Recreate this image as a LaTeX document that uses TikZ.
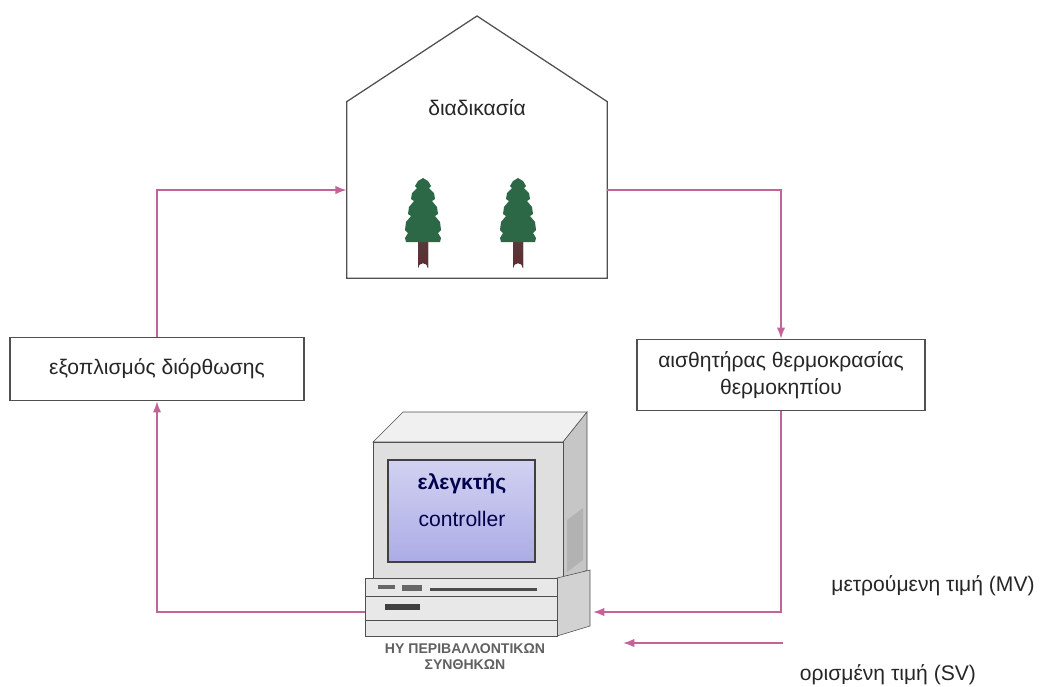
\documentclass[tikz,border=0pt]{standalone}
\usepackage{fontspec}
\setmainfont{Liberation Sans}
\usetikzlibrary{positioning,arrows.meta}

\definecolor{flowpink}{RGB}{196,100,150}
\definecolor{edgegray}{RGB}{80,80,80}
\definecolor{firgreen}{RGB}{44,104,70}
\definecolor{trunkred}{RGB}{100,42,52}
\definecolor{screenblue}{RGB}{172,172,230}

\tikzset{
  box/.style={draw=edgegray, line width=1pt, text=black!85, font=\fontsize{15}{19}\selectfont},
  flow/.style={flowpink, line width=1.3pt, -{Latex[length=8pt,width=6pt]}},
  lbl/.style={text=black!85, font=\fontsize{15}{18}\selectfont},
  fir/.pic={
    \fill[top color=trunkred!70!firgreen, bottom color=trunkred]
      (-5,60) -- (-5,90) arc (180:360:5) -- (5,60) -- cycle;
    \fill[firgreen] (0,0) -- (5,3) -- (8,8) -- (6,10) -- (11,15) -- (12,21) -- (9,23)
      -- (14,29) -- (15,36) -- (12,38) -- (17,44) -- (18,52) -- (15,55) -- (18,60) -- (17,64)
      -- (-17,64) -- (-18,60) -- (-15,55) -- (-18,52) -- (-17,44) -- (-12,38) -- (-15,36)
      -- (-14,29) -- (-9,23) -- (-12,21) -- (-11,15) -- (-6,10) -- (-8,8) -- (-5,3) -- cycle;
  }
}

\begin{document}
\begin{tikzpicture}[x=0.025cm, y=-0.025cm]
\useasboundingbox (0,0) rectangle (1040,686);

% the greenhouse
\node[minimum width=6.5cm, minimum height=4.4cm] (process) at (477,190) {};
\coordinate (roof) at (477,16);
\draw[edgegray, line width=0.9pt] (process.north west) -- (roof) -- (process.north east)
  -- (process.south east) -- (process.south west) -- cycle;
\node[lbl] (proclbl) at (477,108) {διαδικασία};
\pic at (423,178) {fir};
\pic at (518,178) {fir};

% boxes
\node[box, minimum width=7.35cm, minimum height=1.575cm] (equip) at (157,369) {εξοπλισμός διόρθωσης};
\node[box, minimum width=7.2cm, minimum height=1.775cm, align=center] (sensor) at (781,375)
  {αισθητήρας θερμοκρασίας\\θερμοκηπίου};

% the computer: monitor
\draw[edgegray, fill=gray!12] (373,442) -- (403,412) -- (587,412) -- (563,442) -- cycle;
\draw[edgegray, fill=gray!45] (563,442) -- (587,412) -- (587,570) -- (563,585) -- cycle;
\draw[edgegray, fill=gray!25] (373,442) rectangle (563,585);
\draw[black!75, line width=2pt, top color=screenblue!55!white, bottom color=screenblue]
  (388,460) rectangle (535,562);
\node[text=black!70!blue, font=\fontsize{15}{17}\selectfont\bfseries] (screen1) at (462,484) {ελεγκτής};
\node[text=black!70!blue, font=\fontsize{15}{17}\selectfont] (screen2) at (462,519) {controller};
\fill[gray!60] (567,520) -- (583,508) -- (583,560) -- (567,572) -- cycle;

% the computer: base unit
\draw[edgegray, fill=gray!35] (557,578) -- (590,570) -- (590,626) -- (557,636) -- cycle;
\draw[edgegray, fill=gray!18] (365,578) rectangle (557,636);
\draw[edgegray] (365,596) -- (557,596);
\draw[edgegray] (365,620) -- (557,620);
\fill[black!70] (430,588) rectangle (537,591);
\fill[black!60] (378,585) rectangle (395,589);
\fill[black!60] (402,585) rectangle (422,591);
\fill[black!75] (385,604) rectangle (420,610);
\coordinate (pcout) at (365,612);
\coordinate (pcin) at (593,612);
\node[text=gray!75!black, font=\fontsize{10}{11.5}\selectfont\bfseries, align=center] (pclbl) at (465,657)
  {ΗΥ ΠΕΡΙΒΑΛΛΟΝΤΙΚΩΝ\\ΣΥΝΘΗΚΩΝ};

% loop connectors
\draw[flow] (equip.north) |- (process.west);
\draw[flow] (process.east) -| (sensor.north);
\draw[flow] (sensor.south) |- (pcin);
\draw[flow] (pcout) -| (equip.south);

% set value
\coordinate (svfrom) at (783,643);
\coordinate (svto) at (623,643);
\draw[flow] (svfrom) -- (svto);
\node[lbl] (mv) at (933,586) {μετρούμενη τιμή (MV)};
\node[lbl] (sv) at (888,675) {ορισμένη τιμή (SV)};
\end{tikzpicture}
\end{document}
